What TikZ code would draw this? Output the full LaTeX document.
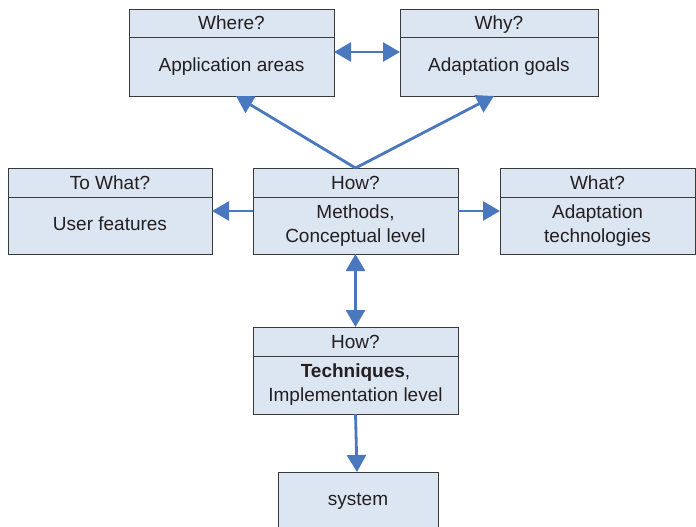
\documentclass[tikz,border=0pt]{standalone}
\usepackage{fontspec}
\setmainfont{Liberation Sans}
\usetikzlibrary{arrows.meta}
\definecolor{boxfill}{HTML}{DCE6F2}
\definecolor{boxline}{HTML}{3A3A3A}
\definecolor{arrowblue}{HTML}{4A78BE}
\definecolor{inktext}{HTML}{231F20}
\tikzset{
  cell/.style={draw=boxline, line width=0.9pt, fill=boxfill, rectangle,
    anchor=north west, inner sep=0pt, outer sep=0pt, text=inktext,
    align=center, font=\fontsize{19}{24}\selectfont},
  oneline/.style={text height=14pt, text depth=4pt},
  headline/.style={text height=16pt, text depth=2pt},
  link/.style={draw=arrowblue, line width=2.8pt,
    -{Triangle[length=17pt,width=19pt]}},
  biLink/.style={draw=arrowblue, line width=2.8pt,
    {Triangle[length=17pt,width=19pt]}-{Triangle[length=17pt,width=19pt]}},
}
\begin{document}
\begin{tikzpicture}[x=1pt,y=-1pt]
\useasboundingbox (0,0) rectangle (696,527);
\clip (0,0) rectangle (696,527);

% top row
\node[cell, headline, minimum width=205pt, minimum height=28pt] (whereH) at (129,9) {Where?};
\node[cell, oneline, minimum width=205pt, minimum height=59pt] (whereB) at (129,37) {Application areas};
\node[cell, headline, minimum width=198pt, minimum height=28pt] (whyH) at (400,9) {Why?};
\node[cell, oneline, minimum width=198pt, minimum height=59pt] (whyB) at (400,37) {Adaptation goals};

% middle row
\node[cell, headline, minimum width=204pt, minimum height=29pt] (towhatH) at (8,168) {To What?};
\node[cell, oneline, minimum width=204pt, minimum height=57pt] (towhatB) at (8,197) {User features};
\node[cell, headline, minimum width=205pt, minimum height=29pt] (howH) at (253,168) {How?};
\node[cell, minimum width=205pt, minimum height=57pt] (howB) at (253,197) {Methods,\\Conceptual level};
\node[cell, headline, minimum width=195pt, minimum height=29pt] (whatH) at (500,168) {What?};
\node[cell, minimum width=195pt, minimum height=57pt] (whatB) at (500,197) {Adaptation\\technologies};

% implementation level
\node[cell, headline, minimum width=205pt, minimum height=29pt] (techH) at (253,327) {How?};
\node[cell, minimum width=205pt, minimum height=58pt] (techB) at (253,356) {\textbf{Techniques},\\Implementation level};

% system
\node[cell, oneline, minimum width=160pt, minimum height=57pt] (sys) at (278,472) {system};

% connectors
\coordinate (howTop) at (howH.north);
\draw[biLink] (whereB.east |- 0,52) -- (whyB.west |- 0,52);
\draw[link] (howTop) -- (whereB.south -| 236,0);
\draw[link] (howTop) -- (whyB.south -| 494,0);
\draw[link] (howB.west |- 0,211) -- (towhatB.east |- 0,211);
\draw[link] (howB.east |- 0,211) -- (whatB.west |- 0,211);
\draw[biLink] (howB.south) -- (techH.north);
\draw[link] (techB.south) -- (sys.north -| 357,0);
\end{tikzpicture}
\end{document}
